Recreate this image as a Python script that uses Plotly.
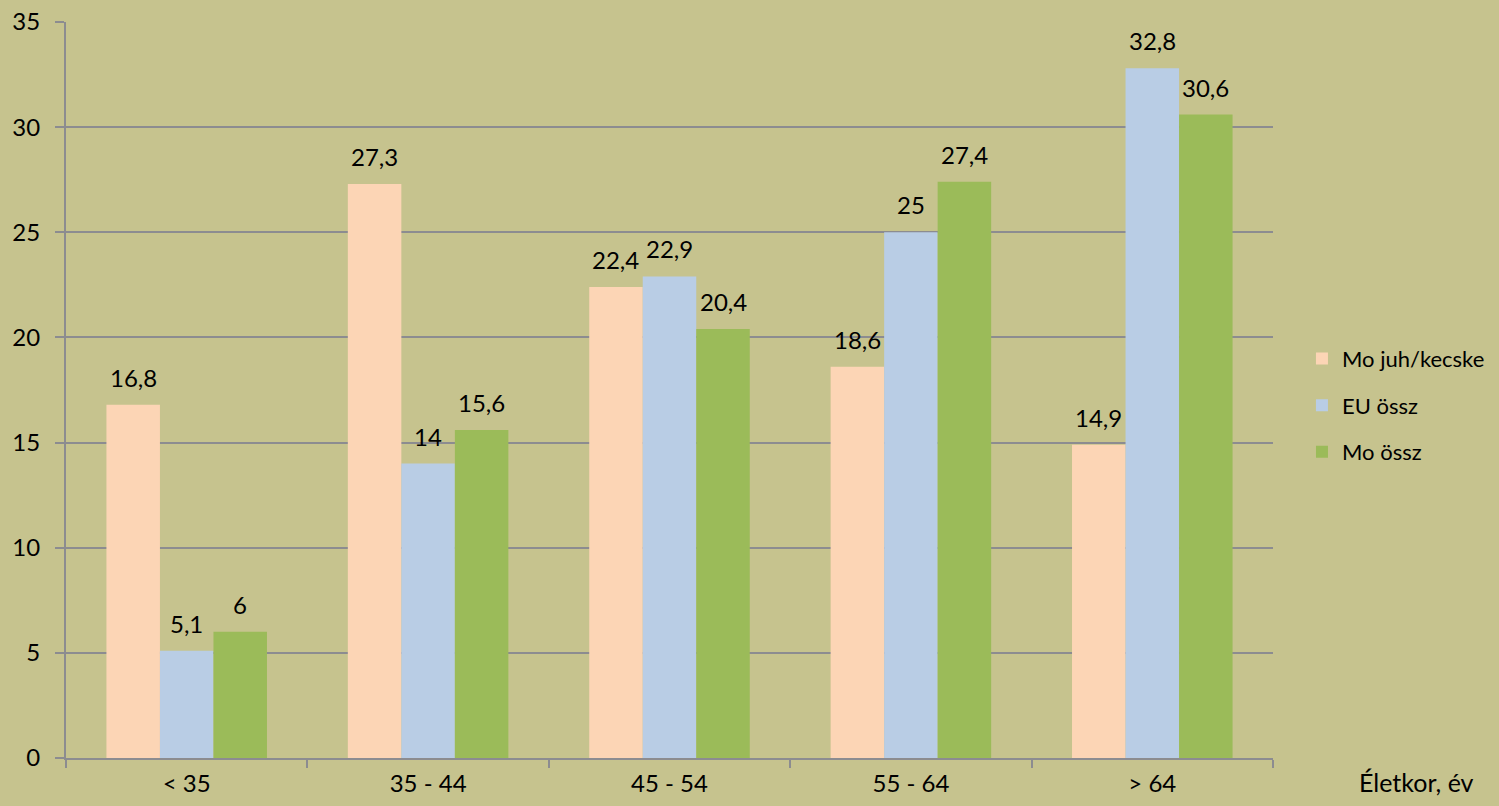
import plotly.graph_objects as go

categories = ["< 35", "35 - 44", "45 - 54", "55 - 64", "> 64"]
series_names = ["Mo juh/kecske", "EU össz", "Mo össz"]
mo_juh = [16.8, 27.3, 22.4, 18.6, 14.9]
eu_ossz = [5.1, 14, 22.9, 25, 32.8]
mo_ossz = [6, 15.6, 20.4, 27.4, 30.6]
y_ticks = [0, 5, 10, 15, 20, 25, 30, 35]
x_title = "Életkor, év"

colors = ["#FCD5B5", "#B9CDE5", "#9BBB59"]
FONT = "Lato, Carlito, Calibri, sans-serif"
FS = 24
BG = "#C6C38E"
GRID = "#8C8C90"

W, H = 1499, 806
ML, MR, MT, MB = 66, 226, 22, 48
BARGAP = 0.335

def fmt(v):
    return ("%g" % v).replace(".", ",")

all_series = [mo_juh, eu_ossz, mo_ossz]
fig = go.Figure()
for i, (name, vals) in enumerate(zip(series_names, all_series)):
    fig.add_trace(go.Bar(
        x=categories, y=vals, name=name,
        marker=dict(color=colors[i], line=dict(width=0)),
        legendgroup=name,
    ))

# data labels as annotations (placed above each bar, Excel-like gap)
cat_px = (W - ML - MR) / len(categories)
bar_px = (1 - BARGAP) * cat_px / len(all_series)
annotations = []
for i, vals in enumerate(all_series):
    off = (i - (len(all_series) - 1) / 2) * bar_px
    for c, v in zip(categories, vals):
        annotations.append(dict(
            x=c, y=v, xref="x", yref="y", text=fmt(v), showarrow=False,
            xanchor="center", yanchor="bottom", xshift=off, yshift=11,
            font=dict(family=FONT, size=FS, color="#000000"),
        ))
annotations.append(dict(text=x_title, xref="paper", yref="paper", x=1.1193, y=-0.033,
                        xanchor="center", yanchor="middle", showarrow=False,
                        font=dict(family=FONT, size=25, color="#000000")))

fig.update_layout(
    width=W, height=H,
    barmode="group", bargap=BARGAP, bargroupgap=0,
    paper_bgcolor=BG, plot_bgcolor=BG,
    margin=dict(l=ML, r=MR, t=MT, b=MB, autoexpand=False),
    font=dict(family=FONT, size=FS, color="#000000"),
    showlegend=True,
    legend=dict(x=1.024, y=0.571, xanchor="left", yanchor="top",
                font=dict(family=FONT, size=22), tracegroupgap=15,
                bgcolor="rgba(0,0,0,0)", itemwidth=30),
    xaxis=dict(type="category", tickson="boundaries", ticks="outside", ticklen=8,
               tickcolor=GRID, tickwidth=2, showline=True, linecolor=GRID,
               linewidth=2, showgrid=False, tickfont=dict(size=FS),
               ticklabelstandoff=3),
    yaxis=dict(range=[0, 35], tickvals=y_ticks, ticks="outside", ticklen=9,
               tickcolor=GRID, tickwidth=2, showline=True, linecolor=GRID,
               linewidth=2, showgrid=True, gridcolor=GRID, gridwidth=2,
               zeroline=False, tickfont=dict(size=FS), ticklabelstandoff=10),
    annotations=annotations,
)

fig.write_html("out.html", config={"displayModeBar": False},
               post_script="document.body.style.margin='0';")
